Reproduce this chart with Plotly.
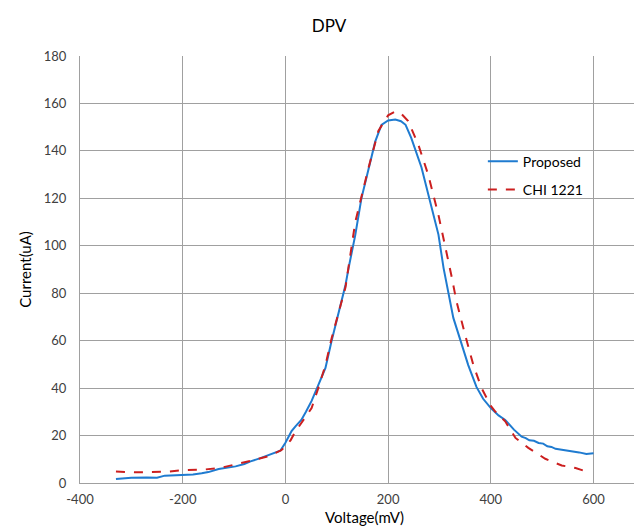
import plotly.graph_objects as go

# Proposed (blue, solid)
prop_v = [-330, -300, -270, -250, -235, -200, -180, -163, -150, -130, -115, -97, -80, -68, -50, -33,
          -20, -10, 0, 12, 20, 31, 40, 51, 64, 78, 90, 103, 117, 123, 136, 148, 162, 175, 187, 200,
          214, 225, 234, 245, 265, 278, 298, 308, 317, 327, 341, 356, 372, 385, 400, 415, 428, 445,
          460, 468, 475, 484, 493, 502, 510, 518, 526, 540, 557, 572, 586, 600]
prop_i = [1.7, 2.2, 2.3, 2.2, 3.1, 3.4, 3.6, 4.1, 4.6, 5.9, 6.4, 7.0, 8.0, 9.1, 10.4, 11.8,
          12.6, 13.6, 17.0, 21.9, 24.0, 26.6, 30.0, 34.6, 41.3, 48.5, 60.0, 71.0, 83.5, 90.6, 104.5, 120.0, 133.0, 144.0, 151.0, 152.8,
          153.2, 152.5, 151.0, 145.5, 133.0, 121.5, 104.7, 90.6, 80.0, 69.6, 60.0, 49.7, 40.5, 35.5, 31.6, 28.5, 26.6, 22.5,
          19.5, 18.9, 18.0, 17.8, 16.9, 16.6, 15.5, 15.2, 14.4, 14.0, 13.6, 12.9, 12.2, 12.5]

# CHI 1221 (red, dashed)
chi_v = [-330, -292, -260, -228, -200, -163, -130, -97, -66, -33, -8, 0, 10, 19, 30, 51, 64, 78, 90,
         103, 117, 136, 162, 181, 200, 214, 224, 239, 259, 278, 298, 323, 333, 350, 366, 382, 400,
         409, 428, 448, 473, 506, 538, 565, 590]
chi_i = [4.8, 4.5, 4.6, 4.8, 5.4, 5.6, 6.2, 7.7, 9.4, 11.3, 13.8, 15.5, 18.0, 21.5, 25.0, 31.6, 40.0, 49.7, 61.0,
         71.0, 82.5, 110.0, 133.0, 148.4, 155.0, 156.6, 156.0, 152.6, 142.5, 130.0, 113.0, 87.7, 76.7, 62.4, 49.7, 40.0, 32.5,
         30.0, 26.0, 19.0, 14.8, 10.2, 7.4, 6.3, 4.6]

x_ticks = [-400, -200, 0, 200, 400, 600]
y_ticks = [0, 20, 40, 60, 80, 100, 120, 140, 160, 180]

FONT = "Lato, Open Sans, sans-serif"
fig = go.Figure()
fig.add_trace(go.Scatter(x=prop_v, y=prop_i, mode="lines", name="Proposed", legendgroup="a",
                         line=dict(color="#1f7bd0", width=2)))
fig.add_trace(go.Scatter(x=chi_v, y=chi_i, mode="lines", name="CHI 1221", legendgroup="b",
                         line=dict(color="#cc1f1f", width=2, dash="dash")))

fig.update_layout(
    width=642, height=527,
    margin=dict(l=72, r=1, t=48, b=52, autoexpand=False),
    paper_bgcolor="white", plot_bgcolor="white",
    font=dict(family=FONT, color="#404040", size=13),
    title=dict(text="DPV", x=0.5, xanchor="center", y=0.965, yanchor="middle",
               font=dict(size=17, color="#000000", family=FONT)),
    showlegend=True,
    legend=dict(x=0.708, y=0.79, xanchor="left", yanchor="top", bgcolor="rgba(0,0,0,0)",
                font=dict(size=14, color="#000000", family=FONT), tracegroupgap=7),
    xaxis=dict(range=[-400, 708], tickvals=x_ticks, ticktext=[str(t) for t in x_ticks],
               showgrid=True, gridcolor="#a0a0a0", gridwidth=1, zeroline=False, automargin=False,
               showline=True, linecolor="#a0a0a0", ticks="", ticklabelstandoff=4,
               title=dict(text="Voltage(mV)", font=dict(size=15, color="#000000", family=FONT), standoff=6)),
    yaxis=dict(range=[0, 180], tickvals=y_ticks, ticktext=[str(t) for t in y_ticks],
               showgrid=True, gridcolor="#a0a0a0", gridwidth=1, zeroline=False, automargin=False,
               showline=True, linecolor="#a0a0a0", ticks="", ticklabelstandoff=10,
               title=dict(text="Current(uA)", font=dict(size=15, color="#000000", family=FONT), standoff=8)),
)

fig.write_html("out.html")
